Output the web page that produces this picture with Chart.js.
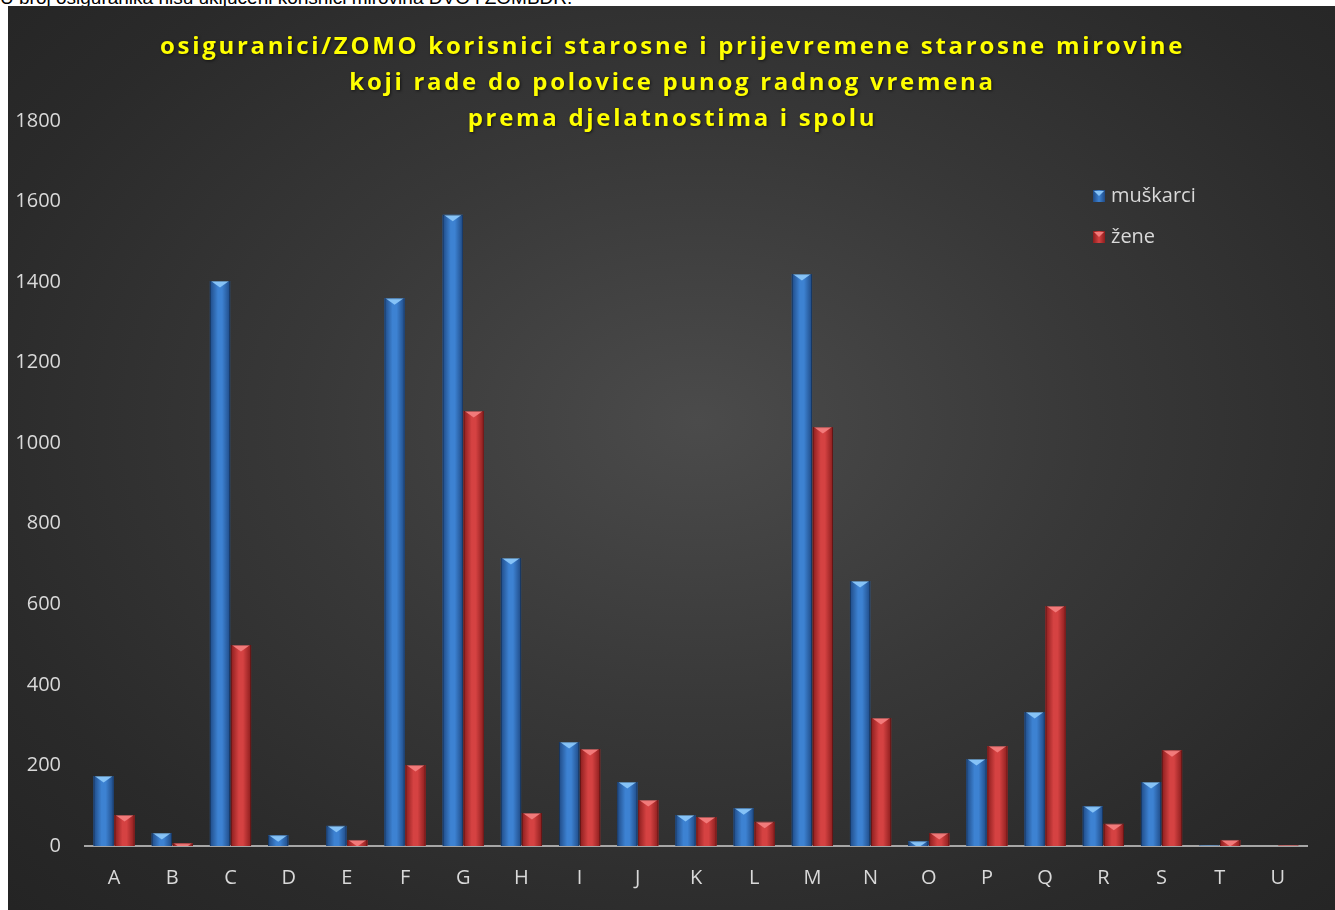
<!DOCTYPE html>
<html>
<head>
<meta charset="utf-8">
<script src="https://cdn.jsdelivr.net/npm/chart.js@4"></script>
<style>
  html, body { margin: 0; padding: 0; background: #ffffff; width: 1335px; height: 910px; overflow: hidden; }
  #note { position: absolute; left: 0; top: -13px; font: 19px "Liberation Sans", Arial, sans-serif; color: #000; white-space: nowrap; }
  #wrap { position: absolute; left: 8px; top: 6px; width: 1327px; height: 904px;
    background: radial-gradient(ellipse 75% 80% at 52% 46%, #4b4b4b 0%, #383838 40%, #2a2a2a 75%, #232323 100%); }
  canvas { display: block; }
</style>
</head>
<body>
<div id="note">U broj osiguranika nisu uključeni korisnici mirovina DVO i ZOMBDR.</div>
<div id="wrap"><canvas id="c" width="1327" height="904"></canvas></div>
<script>
const categories = ['A','B','C','D','E','F','G','H','I','J','K','L','M','N','O','P','Q','R','S','T','U'];
const muskarci = [174, 32, 1403, 27, 50, 1360, 1567, 715, 258, 159, 77, 94, 1420, 658, 12, 216, 333, 99, 159, 1, 0];
const zene     = [77, 7, 499, 0, 15, 201, 1080, 82, 241, 114, 72, 60, 1040, 318, 32, 248, 596, 55, 238, 15, 1];
const seriesLabels = ['muškarci', 'žene'];
const titleLines = [
  'osiguranici/ZOMO korisnici starosne i prijevremene starosne mirovine',
  'koji rade do polovice punog radnog vremena',
  'prema djelatnostima i spolu'
];
const yMax = 1800, yStep = 200;

const palettes = [
  { base: '#2f69b3', edge: '#1f4a85', mid: '#3d82d2', top: '#86c3f7' },
  { base: '#c03232', edge: '#8a1d1d', mid: '#d54242', top: '#f27a7a' }
];

const barStyle = {
  id: 'barStyle',
  afterDatasetsDraw(chart) {
    const ctx = chart.ctx;
    chart.data.datasets.forEach((ds, di) => {
      const meta = chart.getDatasetMeta(di);
      const p = palettes[di];
      meta.data.forEach(el => {
        const w = el.width, x0 = el.x - w / 2, top = el.y, bottom = el.base;
        const h = bottom - top;
        if (h <= 0.2) return;
        ctx.save();
        ctx.beginPath(); ctx.rect(x0, top, w, h); ctx.clip();
        const g = ctx.createLinearGradient(x0, 0, x0 + w, 0);
        g.addColorStop(0, p.edge); g.addColorStop(0.4, p.mid); g.addColorStop(0.6, p.mid); g.addColorStop(1, p.edge);
        ctx.fillStyle = g; ctx.fillRect(x0, top, w, h);
        ctx.beginPath();
        ctx.moveTo(x0 + 1, top); ctx.lineTo(x0 + w - 1, top); ctx.lineTo(el.x, top + 6.5); ctx.closePath();
        ctx.fillStyle = p.top; ctx.fill();
        ctx.strokeStyle = 'rgba(0,0,0,0.3)'; ctx.lineWidth = 1;
        ctx.strokeRect(x0 + 0.5, top + 0.5, w - 1, h);
        ctx.restore();
      });
    });
  }
};

const titleAndLegend = {
  id: 'titleAndLegend',
  afterDraw(chart) {
    const ctx = chart.ctx;
    ctx.save();
    ctx.fillStyle = '#ffff00';
    ctx.font = 'bold 24px "Open Sans", sans-serif';
    ctx.textAlign = 'center'; ctx.textBaseline = 'middle';
    ctx.letterSpacing = '2.7px';
    ctx.shadowColor = 'rgba(0,0,0,0.6)'; ctx.shadowBlur = 3; ctx.shadowOffsetX = 1; ctx.shadowOffsetY = 1;
    const ys = [41, 77, 113];
    titleLines.forEach((t, i) => ctx.fillText(t, chart.width / 2 + 1, ys[i]));
    ctx.restore();

    ctx.save();
    ctx.font = '20px "Open Sans", sans-serif';
    ctx.textBaseline = 'middle'; ctx.textAlign = 'left';
    const ly = [190, 231];
    chart.data.datasets.forEach((ds, i) => {
      const p = palettes[i];
      const sx = 1085, sy = ly[i] - 6, s = 12;
      const g = ctx.createLinearGradient(sx, 0, sx + s, 0);
      g.addColorStop(0, p.edge); g.addColorStop(0.5, p.mid); g.addColorStop(1, p.edge);
      ctx.fillStyle = g; ctx.fillRect(sx, sy, s, s);
      ctx.beginPath(); ctx.moveTo(sx + 1, sy + 1); ctx.lineTo(sx + s - 1, sy + 1); ctx.lineTo(sx + s / 2, sy + 6); ctx.closePath();
      ctx.fillStyle = p.top; ctx.fill();
      ctx.fillStyle = '#d9d9d9';
      ctx.fillText(ds.label, 1103, ly[i]);
    });
    ctx.restore();
  }
};

new Chart(document.getElementById('c'), {
  type: 'bar',
  data: {
    labels: categories,
    datasets: [
      { label: seriesLabels[0], data: muskarci, backgroundColor: palettes[0].base },
      { label: seriesLabels[1], data: zene, backgroundColor: palettes[1].base }
    ]
  },
  options: {
    responsive: false,
    animation: false,
    devicePixelRatio: 1,
    layout: { padding: { left: 0, right: 28, top: 115, bottom: 0 } },
    datasets: { bar: { categoryPercentage: 0.72, barPercentage: 0.97 } },
    plugins: { legend: { display: false }, title: { display: false }, tooltip: { enabled: false } },
    scales: {
      x: {
        grid: { display: false, drawTicks: false },
        border: { display: true, color: '#a6a6a6', width: 2 },
        ticks: { color: '#d9d9d9', font: { family: '"Open Sans", sans-serif', size: 20 }, padding: 20 },
        afterFit(s) { s.height = 64; }
      },
      y: {
        min: 0, max: yMax,
        grid: { display: false, drawTicks: false },
        border: { display: false },
        ticks: { stepSize: yStep, color: '#d9d9d9', font: { family: '"Open Sans", sans-serif', size: 20 }, padding: 24,
          callback: v => String(v) },
        afterFit(s) { s.width = 77; }
      }
    }
  },
  plugins: [barStyle, titleAndLegend]
});
</script>
</body>
</html>
